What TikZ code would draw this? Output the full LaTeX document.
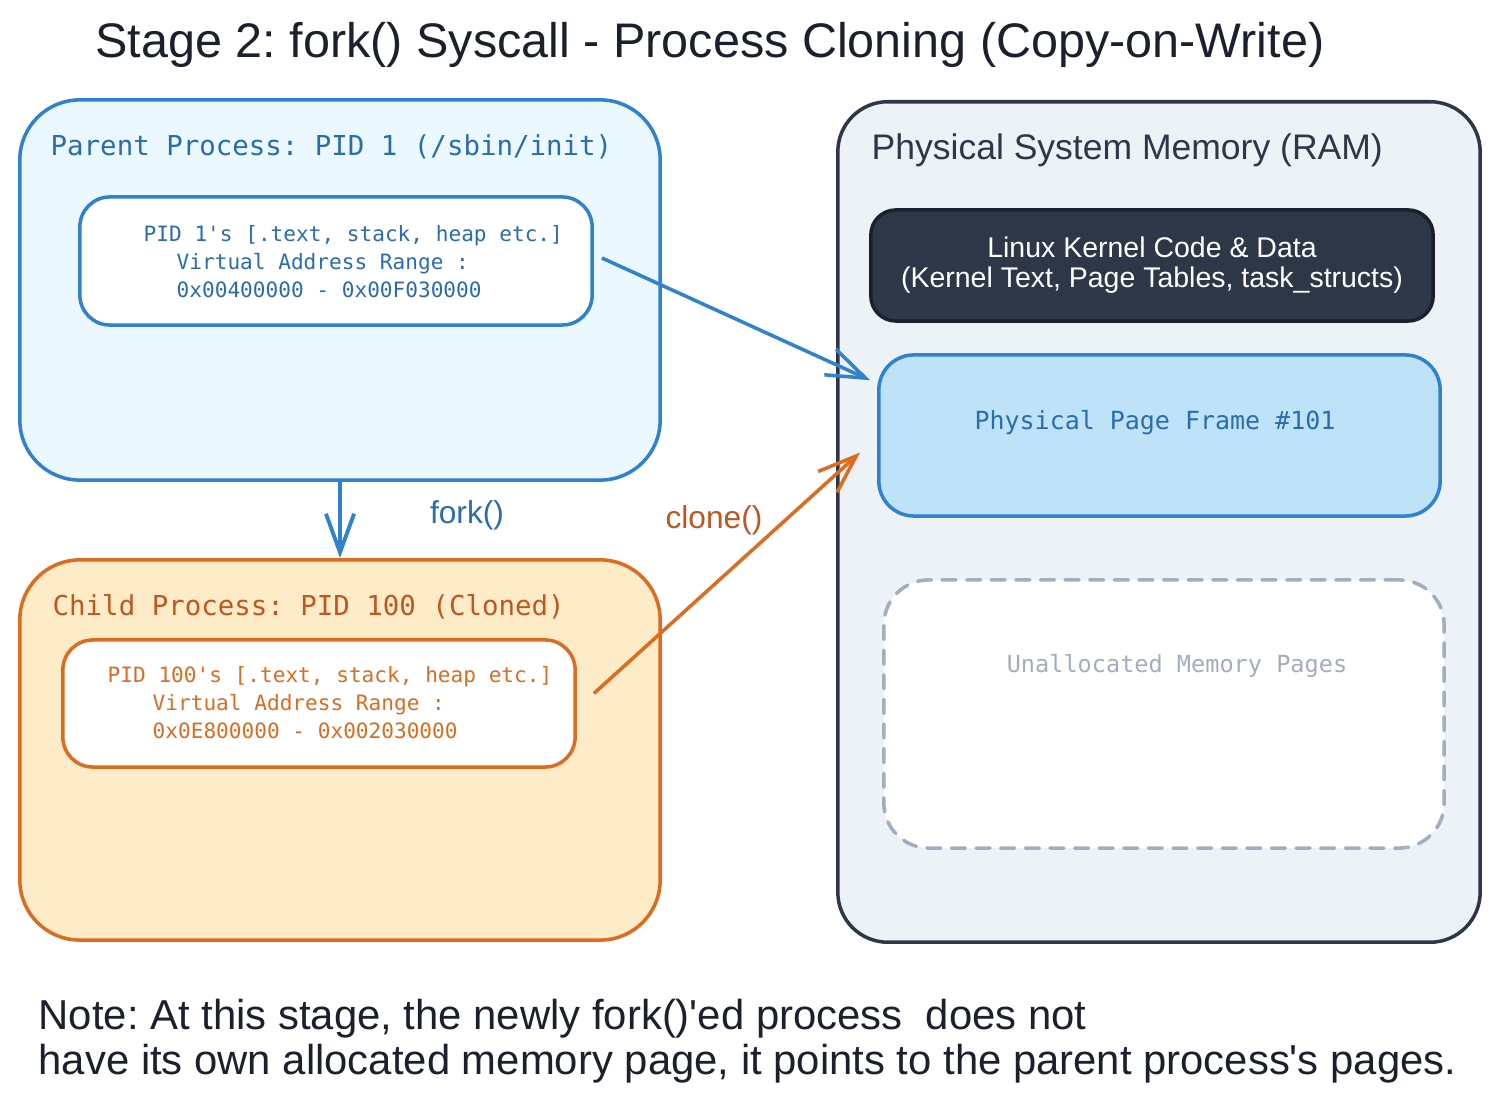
\documentclass[tikz,border=0pt]{standalone}
\usepackage{fontspec}
\setmainfont{Liberation Sans}
\newfontfamily\codefont{DejaVu Sans Mono}
\usetikzlibrary{arrows.meta,calc}
\frenchspacing

\definecolor{procblue}{HTML}{3182CE}
\definecolor{proctext}{HTML}{2B6CB0}
\definecolor{parentfill}{HTML}{EBF8FF}
\definecolor{procorange}{HTML}{DD6B20}
\definecolor{childtext}{HTML}{C05621}
\definecolor{childfill}{HTML}{FEEBC8}
\definecolor{ramfill}{HTML}{EDF2F7}
\definecolor{ramline}{HTML}{2D3748}
\definecolor{kerneldark}{HTML}{1A202C}
\definecolor{framefill}{HTML}{BEE3F8}
\definecolor{freegrey}{HTML}{A0AEC0}

\tikzset{
	outerbox/.style={draw, line width=1pt, rounded corners=0.6cm, inner sep=0pt},
	innerbox/.style={draw, line width=1pt, rounded corners=0.3cm, inner sep=0pt, fill=white},
	codetext/.style={inner sep=0pt, align=left, font=\codefont\fontsize{6}{8}\selectfont},
	headtext/.style={inner sep=0pt, anchor=west, font=\codefont\fontsize{7.8}{9}\selectfont},
	handtext/.style={inner sep=0pt, font=\fontsize{9}{11}\selectfont},
	barb/.style={-{Straight Barb[length=11pt, width=8pt]}, line width=1.1pt},
}

\begin{document}
\begin{tikzpicture}[x=0.01cm, y=-0.01cm]
	\useasboundingbox (0,0) rectangle (1499,1107);

	\node[inner sep=0pt, text=kerneldark, font=\fontsize{13.8}{16}\selectfont] (title) at (710,45) {Stage 2: fork() Syscall - Process Cloning (Copy-on-Write)};

	% parent process
	\node[outerbox, draw=procblue, fill=parentfill, minimum width=6.4cm, minimum height=3.8cm] (parent) at (340,290) {};
	\node[headtext, text=proctext] (parenthead) at (50,147) {Parent Process: PID 1 (/sbin/init)};
	\node[innerbox, draw=procblue, minimum width=5.12cm, minimum height=1.28cm] (pinner) at (336,261) {};
	\node[codetext, text=proctext, anchor=west] (pinnertext) at (143,262) {PID 1's [.text, stack, heap etc.]\\\hspace*{0.33cm}Virtual Address Range :\\\hspace*{0.33cm}0x00400000 - 0x00F030000};

	% child process
	\node[outerbox, draw=procorange, fill=childfill, minimum width=6.4cm, minimum height=3.8cm] (child) at (340,750) {};
	\node[headtext, text=childtext] (childhead) at (52,607) {Child Process: PID 100 (Cloned)};
	\node[innerbox, draw=procorange, minimum width=5.12cm, minimum height=1.27cm] (cinner) at (319,703.5) {};
	\node[codetext, text=procorange, anchor=west] (cinnertext) at (107,703) {PID 100's [.text, stack, heap etc.]\\\hspace*{0.45cm}Virtual Address Range :\\\hspace*{0.45cm}0x0E800000 - 0x002030000};

	% physical memory
	\node[outerbox, draw=ramline, fill=ramfill, rounded corners=0.5cm, minimum width=6.42cm, minimum height=8.4cm] (ram) at (1159,522) {};
	\node[inner sep=0pt, anchor=west, text=ramline, font=\fontsize{10.1}{12}\selectfont] (ramhead) at (871,150) {Physical System Memory (RAM)};
	\node[draw=kerneldark, fill=ramline, line width=1pt, rounded corners=0.25cm, minimum width=5.62cm, minimum height=1.11cm, text=white, align=center, font=\fontsize{8.1}{8.6}\selectfont] (kernel) at (1152,265.5) {Linux Kernel Code \& Data\\(Kernel Text, Page Tables, task\_structs)};
	\node[draw=procblue, fill=framefill, line width=1pt, rounded corners=0.35cm, minimum width=5.61cm, minimum height=1.61cm] (frame) at (1159.5,435.5) {};
	\node[inner sep=0pt, text=proctext, font=\codefont\fontsize{7.1}{9}\selectfont] (frametext) at (1155,423) {Physical Page Frame \#101};
	\node[draw=freegrey, fill=white, line width=1pt, dash pattern=on 4pt off 3pt, line cap=round, rounded corners=0.45cm, minimum width=5.6cm, minimum height=2.68cm] (unalloc) at (1164,714) {};
	\node[inner sep=0pt, text=freegrey, font=\codefont\fontsize{6.7}{8}\selectfont] (unalloctext) at (1177,666) {Unallocated Memory Pages};

	% connectors
	\draw[barb, procblue] (parent.south) -- (child.north);
	\node[handtext, text=proctext] (forklabel) at (467,515) {fork()};
	\draw[barb, procblue, line width=1pt] ($(pinner.east)+(8,-3)$) -- ($(frame.north west)+(-7,27)$);
	\draw[barb, procorange, line width=1pt] ($(cinner.east)+(17,-10)$) -- ($(frame.west)+(-17,17)$);
	\node[handtext, text=childtext] (clonelabel) at (714,520) {clone()};

	\node[inner sep=0pt, anchor=north west, align=left, text=kerneldark, font=\fontsize{11.9}{12.8}\selectfont] (note) at (38,998) {Note: At this stage, the newly fork()\textquotesingle ed process \ does not\\have its own allocated memory page, it points to the parent process\textquotesingle s pages.};
\end{tikzpicture}
\end{document}
